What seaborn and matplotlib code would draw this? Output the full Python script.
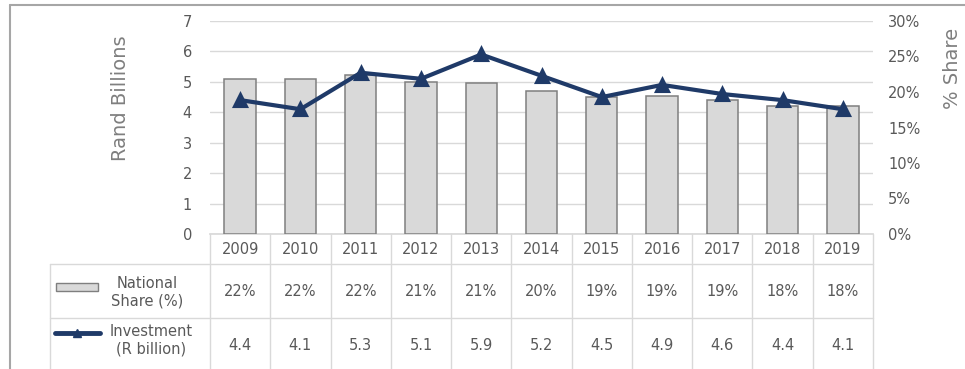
import matplotlib
matplotlib.use("Agg")
import matplotlib.pyplot as plt
import matplotlib.transforms as mtrans
from matplotlib.lines import Line2D
from matplotlib.patches import Rectangle
from matplotlib.ticker import FuncFormatter
import seaborn as sns
import pandas as pd

# ---- data ----
years = ["2009", "2010", "2011", "2012", "2013", "2014", "2015", "2016", "2017", "2018", "2019"]
investment = [4.4, 4.1, 5.3, 5.1, 5.9, 5.2, 4.5, 4.9, 4.6, 4.4, 4.1]          # R billion (left axis)
share_pct = [21.9, 21.9, 22.4, 21.4, 21.2, 20.1, 19.3, 19.4, 18.9, 18.0, 18.0]  # National share % (right axis)
share_labels = ["22%", "22%", "22%", "21%", "21%", "20%", "19%", "19%", "19%", "18%", "18%"]
left_ticks = [0, 1, 2, 3, 4, 5, 6, 7]
right_ticks = [0, 5, 10, 15, 20, 25, 30]

NAVY = "#1F3A68"
BAR_FACE = "#D9D9D9"
BAR_EDGE = "#7F7F7F"
GRID = "#D9D9D9"
TXT = "#595959"
LBL = "#7F7F7F"
FS = 10.5

sns.set_theme(style="white")
plt.rcParams["font.family"] = ["DejaVu Sans"]

W, H = 965, 369
fig = plt.figure(figsize=(W / 100, H / 100), dpi=100)
ax = fig.add_axes([210 / W, 1 - 234 / H, 663 / W, 213 / H])
ax2 = ax.twinx()
ax3 = ax.twinx()

df = pd.DataFrame({"year": years, "share": share_pct, "inv": investment})

sns.barplot(data=df, x="year", y="share", ax=ax2, color=BAR_FACE, saturation=1,
            edgecolor=BAR_EDGE, linewidth=1.1, width=0.52)
sns.pointplot(data=df, x="year", y="inv", ax=ax3, color=NAVY, markers="^",
              markersize=9, linewidth=3)

# primary (left) axis: Rand billions + gridlines
ax.set_xlim(-0.5, len(years) - 0.5)
ax.set_ylim(0, 7)
ax.set_yticks(left_ticks)
ax.yaxis.grid(True, color=GRID, linewidth=1)
ax.xaxis.grid(False)
ax.tick_params(axis="y", length=0, pad=13, labelsize=FS, labelcolor=TXT)
ax.tick_params(axis="x", length=0, labelbottom=False)
for s in ["left", "right", "top"]:
    ax.spines[s].set_visible(False)
ax.spines["bottom"].set_color(GRID)
ax.set_axisbelow(True)

# right axis: % share (bars)
ax2.set_ylim(0, 30)
ax2.set_yticks(right_ticks)
ax2.yaxis.set_major_formatter(FuncFormatter(lambda v, p: f"{v:.0f}%"))
ax2.tick_params(axis="y", length=0, pad=11, labelsize=FS, labelcolor=TXT)
ax2.tick_params(axis="x", length=0, labelbottom=False)
ax2.set_xlabel("")
ax2.set_ylabel("")
ax2.grid(False)
for s in ax2.spines.values():
    s.set_visible(False)

# line axis overlay (same scale as left axis)
ax3.set_ylim(0, 7)
ax3.set_xlim(-0.5, len(years) - 0.5)
ax3.axis("off")

# axis titles
fig.text(120 / W, 1 - 98 / H, "Rand Billions", rotation=90, ha="center", va="center",
         fontsize=14, color=LBL)
fig.text(952 / W, 1 - 68 / H, "% Share", rotation=90, ha="center", va="center",
         fontsize=14, color=LBL)

# ---- data table below the chart ----
bl = mtrans.blended_transform_factory(ax.transData, fig.transFigure)


def fy(py):
    return 1 - py / H


for i in range(len(years) + 1):
    fig.add_artist(Line2D([i - 0.5, i - 0.5], [fy(234), 0], transform=bl, color=GRID, lw=1))
fig.add_artist(Line2D([50 / W, 50 / W], [fy(264), 0], transform=fig.transFigure, color=GRID, lw=1))
for py in (264, 318):
    fig.add_artist(Line2D([50 / W, 873 / W], [fy(py), fy(py)], transform=fig.transFigure,
                          color=GRID, lw=1))

for i, y in enumerate(years):
    fig.text(i, fy(249), y, transform=bl, ha="center", va="center", fontsize=FS, color=TXT)
for i, s in enumerate(share_labels):
    fig.text(i, fy(291), s, transform=bl, ha="center", va="center", fontsize=FS, color=TXT)
for i, v in enumerate(investment):
    fig.text(i, fy(346), f"{v:.1f}", transform=bl, ha="center", va="center", fontsize=FS, color=TXT)

# legend keys in the table
fig.add_artist(Rectangle((56 / W, fy(291)), 42 / W, 8 / H, transform=fig.transFigure,
                         facecolor=BAR_FACE, edgecolor=BAR_EDGE, lw=1))
fig.add_artist(Line2D([55 / W, 100 / W], [fy(333), fy(333)], transform=fig.transFigure,
                      color=NAVY, lw=3.5, solid_capstyle="round"))
fig.add_artist(Line2D([77 / W], [fy(333)], transform=fig.transFigure, color=NAVY,
                      marker="^", markersize=6, linestyle="none"))
fig.text(147 / W, fy(292), "National\nShare (%)", ha="center", va="center", fontsize=FS,
         color=TXT, multialignment="center", linespacing=1.25)
fig.text(151 / W, fy(340), "Investment\n(R billion)", ha="center", va="center", fontsize=FS,
         color=TXT, multialignment="center", linespacing=1.25)

# outer frame (top and left edges visible)
fig.add_artist(Line2D([10 / W, 1], [fy(5), fy(5)], transform=fig.transFigure, color="#A6A6A6", lw=1.5))
fig.add_artist(Line2D([10 / W, 10 / W], [fy(5), 0], transform=fig.transFigure, color="#A6A6A6", lw=1.5))

fig.savefig("out.png", dpi=100)
